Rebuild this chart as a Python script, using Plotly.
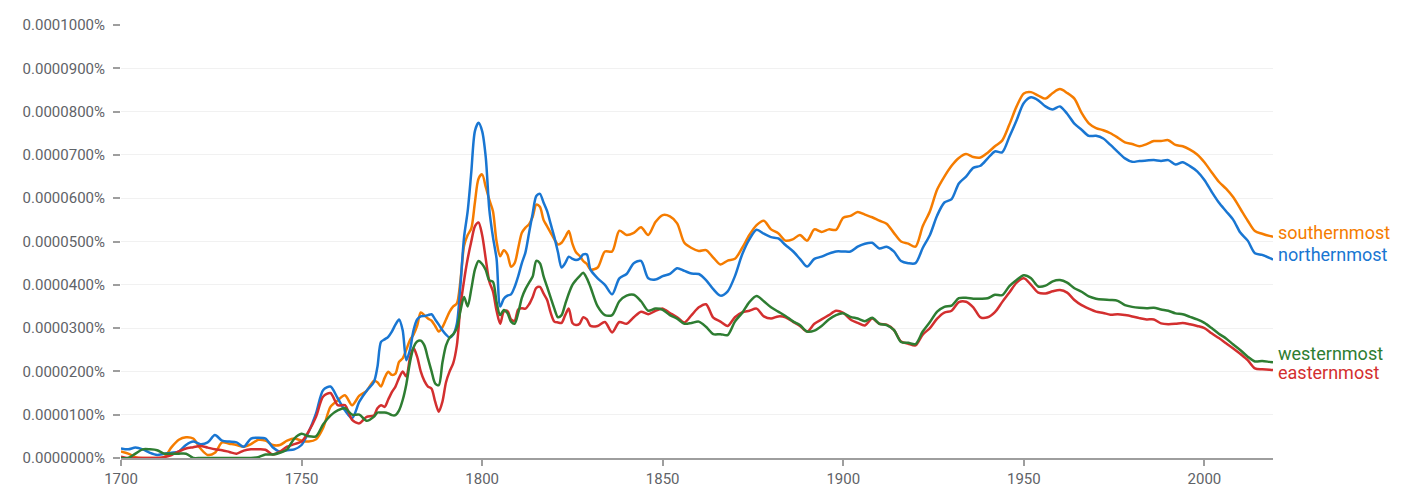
import plotly.graph_objects as go

YEARS = list(range(1700, 1771, 2)) + list(range(1771, 1831)) + list(range(1832, 2019, 2)) + [2019]

# values in units of 0.0000100 %
northernmost = (
    [0.22, 0.2, 0.24, 0.2, 0.12, 0.07, 0.1, 0.12, 0.15, 0.3,
     0.38, 0.32, 0.36, 0.53, 0.4, 0.38, 0.36, 0.26, 0.45, 0.47,
     0.45, 0.25, 0.15, 0.18, 0.2, 0.3, 0.61, 1.03, 1.57, 1.65,
     1.38, 1.1, 0.92, 1.3, 1.55, 1.75]
    + [2.1, 2.68, 2.74, 2.8, 2.92, 3.08, 3.2, 2.95, 2.26, 2.49,
       2.95, 3.2, 3.27, 3.28, 3.3, 3.32, 3.2, 3.08, 2.95, 2.85,
       2.78, 2.85, 3.1, 4.0, 5.1, 5.7, 6.6, 7.55, 7.74, 7.55,
       6.95, 5.73, 5.1, 4.6, 3.5, 3.68, 3.75, 3.78, 3.95, 4.2,
       4.5, 4.75, 5.2, 5.65, 6.05, 6.1, 5.9, 5.7, 5.4, 5.1,
       4.75, 4.4, 4.5, 4.65, 4.6, 4.57, 4.6, 4.7, 4.7, 4.35]
    + [4.15, 4.0, 3.78, 4.15, 4.25, 4.5, 4.55, 4.15, 4.12, 4.2,
       4.25, 4.38, 4.32, 4.26, 4.25, 4.11, 3.9, 3.75, 3.85, 4.2,
       4.7, 5.05, 5.27, 5.18, 5.1, 5.07, 4.92, 4.78, 4.6, 4.42,
       4.6, 4.65, 4.72, 4.77, 4.77, 4.77, 4.88, 4.95, 4.97, 4.84,
       4.88, 4.77, 4.55, 4.5, 4.5, 4.85, 5.15, 5.6, 5.9, 5.98,
       6.34, 6.5, 6.7, 6.75, 6.92, 7.08, 7.06, 7.42, 7.8, 8.2,
       8.33, 8.26, 8.12, 8.05, 8.12, 7.95, 7.72, 7.58, 7.44, 7.44,
       7.38, 7.23, 7.07, 6.92, 6.84, 6.86, 6.87, 6.88, 6.86, 6.88,
       6.78, 6.83, 6.74, 6.62, 6.42, 6.15, 5.9, 5.7, 5.5, 5.2,
       5.02, 4.73, 4.69, 4.62]
    + [4.58]
)

southernmost = (
    [0.15, 0.1, 0.02, 0.0, 0.0, 0.0, 0.02, 0.25, 0.42, 0.48,
     0.45, 0.22, 0.07, 0.12, 0.36, 0.33, 0.3, 0.26, 0.32, 0.42,
     0.4, 0.3, 0.3, 0.4, 0.45, 0.4, 0.38, 0.43, 0.7, 1.18,
     1.33, 1.45, 1.22, 1.44, 1.55, 1.78]
    + [1.75, 1.65, 1.85, 1.99, 1.92, 1.95, 2.22, 2.3, 2.5, 2.72,
       2.85, 3.05, 3.36, 3.3, 3.22, 3.17, 3.05, 2.92, 3.02, 3.2,
       3.38, 3.5, 3.57, 4.1, 4.9, 5.15, 5.3, 5.9, 6.45, 6.55,
       6.26, 5.96, 5.7, 5.0, 4.66, 4.8, 4.7, 4.42, 4.5, 4.85,
       5.2, 5.32, 5.4, 5.57, 5.85, 5.8, 5.5, 5.35, 5.2, 5.05,
       4.93, 4.97, 5.1, 5.24, 4.95, 4.75, 4.67, 4.55, 4.48, 4.35]
    + [4.4, 4.77, 4.77, 5.25, 5.15, 5.2, 5.33, 5.15, 5.45, 5.61,
       5.58, 5.42, 4.97, 4.85, 4.78, 4.8, 4.63, 4.47, 4.56, 4.6,
       4.85, 5.15, 5.38, 5.48, 5.28, 5.19, 5.02, 5.05, 5.15, 5.02,
       5.28, 5.22, 5.28, 5.27, 5.55, 5.59, 5.68, 5.62, 5.56, 5.48,
       5.41, 5.2, 5.0, 4.95, 4.88, 5.35, 5.7, 6.2, 6.5, 6.75,
       6.93, 7.02, 6.95, 6.94, 7.05, 7.2, 7.33, 7.7, 8.12, 8.42,
       8.45, 8.37, 8.3, 8.43, 8.52, 8.43, 8.3, 7.97, 7.73, 7.62,
       7.57, 7.5, 7.4, 7.29, 7.25, 7.2, 7.25, 7.32, 7.32, 7.34,
       7.23, 7.2, 7.12, 7.01, 6.83, 6.6, 6.38, 6.22, 6.02, 5.75,
       5.48, 5.24, 5.18, 5.13]
    + [5.11]
)

easternmost = (
    [0.03, 0.0, 0.0, 0.0, 0.0, 0.0, 0.02, 0.07, 0.15, 0.22,
     0.25, 0.28, 0.24, 0.2, 0.18, 0.14, 0.1, 0.17, 0.2, 0.2,
     0.19, 0.08, 0.15, 0.26, 0.32, 0.38, 0.62, 0.95, 1.42, 1.5,
     1.22, 1.22, 0.88, 0.8, 0.95, 0.98]
    + [1.15, 1.22, 1.18, 1.35, 1.52, 1.65, 1.85, 2.0, 1.88, 2.3,
       2.54, 2.34, 2.0, 1.78, 1.65, 1.6, 1.3, 1.07, 1.3, 1.75,
       2.0, 2.19, 2.6, 3.5, 4.1, 4.6, 5.0, 5.35, 5.44, 5.15,
       4.6, 4.07, 3.85, 3.4, 3.1, 3.38, 3.4, 3.2, 3.17, 3.43,
       3.46, 3.45, 3.55, 3.72, 3.93, 3.95, 3.8, 3.65, 3.35, 3.15,
       3.13, 3.12, 3.3, 3.45, 3.12, 3.07, 3.1, 3.25, 3.2, 3.05]
    + [3.05, 3.14, 2.9, 3.14, 3.1, 3.25, 3.38, 3.32, 3.4, 3.45,
       3.35, 3.25, 3.13, 3.3, 3.48, 3.55, 3.24, 3.15, 3.05, 3.25,
       3.36, 3.4, 3.45, 3.27, 3.22, 3.27, 3.25, 3.15, 3.05, 2.92,
       3.1, 3.2, 3.3, 3.4, 3.35, 3.2, 3.12, 3.06, 3.22, 3.1,
       3.08, 2.96, 2.69, 2.64, 2.6, 2.85, 3.0, 3.22, 3.36, 3.4,
       3.6, 3.61, 3.48, 3.25, 3.25, 3.37, 3.6, 3.82, 4.05, 4.15,
       4.0, 3.82, 3.8, 3.85, 3.88, 3.82, 3.65, 3.53, 3.45, 3.38,
       3.35, 3.31, 3.32, 3.3, 3.27, 3.23, 3.2, 3.2, 3.11, 3.09,
       3.1, 3.12, 3.09, 3.05, 3.0, 2.88, 2.77, 2.65, 2.53, 2.4,
       2.26, 2.07, 2.05, 2.04]
    + [2.03]
)

westernmost = (
    [0.0, 0.0, 0.1, 0.2, 0.2, 0.18, 0.1, 0.1, 0.1, 0.1,
     0.0, 0.0, 0.0, 0.0, 0.0, 0.0, 0.0, 0.0, 0.0, 0.02,
     0.08, 0.08, 0.12, 0.2, 0.45, 0.56, 0.5, 0.5, 0.78, 0.98,
     1.1, 1.15, 1.0, 1.0, 0.86, 0.95]
    + [1.05, 1.05, 1.05, 1.03, 0.99, 0.99, 1.1, 1.34, 1.7, 2.2,
       2.55, 2.69, 2.71, 2.6, 2.3, 2.0, 1.72, 1.68, 2.2, 2.6,
       2.78, 2.86, 3.0, 3.4, 3.72, 3.5, 3.9, 4.35, 4.55, 4.48,
       4.34, 4.1, 4.07, 3.6, 3.3, 3.42, 3.35, 3.15, 3.1, 3.35,
       3.7, 3.9, 4.05, 4.19, 4.55, 4.5, 4.2, 3.95, 3.7, 3.45,
       3.25, 3.3, 3.55, 3.8, 4.0, 4.11, 4.2, 4.28, 4.15, 3.95]
    + [3.5, 3.3, 3.3, 3.62, 3.75, 3.77, 3.62, 3.4, 3.45, 3.42,
       3.3, 3.22, 3.1, 3.12, 3.15, 3.03, 2.86, 2.86, 2.84, 3.15,
       3.35, 3.6, 3.74, 3.62, 3.48, 3.38, 3.28, 3.16, 3.07, 2.92,
       2.94, 3.05, 3.2, 3.3, 3.34, 3.26, 3.22, 3.16, 3.24, 3.1,
       3.07, 2.96, 2.68, 2.66, 2.63, 2.92, 3.14, 3.38, 3.49, 3.52,
       3.69, 3.7, 3.68, 3.68, 3.69, 3.77, 3.76, 3.97, 4.11, 4.22,
       4.15, 3.96, 3.98, 4.08, 4.11, 4.05, 3.92, 3.84, 3.73, 3.68,
       3.66, 3.65, 3.63, 3.53, 3.49, 3.47, 3.46, 3.47, 3.43, 3.4,
       3.34, 3.32, 3.26, 3.2, 3.12, 3.0, 2.87, 2.76, 2.62, 2.49,
       2.34, 2.23, 2.24, 2.22]
    + [2.21]
)

Y_TICK_VALUES = [0, 1, 2, 3, 4, 5, 6, 7, 8, 9, 10]
Y_TICK_LABELS = ["0.0000000%", "0.0000100%", "0.0000200%", "0.0000300%", "0.0000400%",
                 "0.0000500%", "0.0000600%", "0.0000700%", "0.0000800%", "0.0000900%",
                 "0.0001000%"]
X_TICK_VALUES = [1700, 1750, 1800, 1850, 1900, 1950, 2000]

SERIES = [
    ("southernmost", southernmost, "#f57c00", 4),
    ("northernmost", northernmost, "#1976d2", 5),
    ("easternmost", easternmost, "#d32f2f", -2),
    ("westernmost", westernmost, "#2e7d32", 9),
]

for name, vals, _, _ in SERIES:
    assert len(vals) == len(YEARS), (name, len(vals), len(YEARS))

FONT = "Roboto, Arial, sans-serif"
fig = go.Figure()
for name, vals, color, _ in SERIES:
    fig.add_trace(go.Scatter(
        x=YEARS, y=vals, mode="lines", name=name,
        line=dict(color=color, width=2.5, shape="spline", smoothing=0.8),
        hoverinfo="x+y+name",
    ))

annotations = []
for name, vals, color, yshift in SERIES:
    annotations.append(dict(
        x=1, xref="paper", y=vals[-1], yref="y", text=name,
        showarrow=False, xanchor="left", yanchor="middle",
        xshift=3, yshift=yshift,
        font=dict(family=FONT, size=18, color=color),
    ))

# the page body keeps the browser's default 8px margin (page offset 8,8),
# so the figure is 8px smaller and its left/top margins are 8px smaller
fig.update_layout(
    width=1399, height=484,
    margin=dict(l=113, r=134, t=17, b=34, autoexpand=False),
    paper_bgcolor="white", plot_bgcolor="white",
    showlegend=False,
    annotations=annotations,
    xaxis=dict(
        range=[1700, 2019], tickmode="array", tickvals=X_TICK_VALUES,
        ticks="outside", ticklen=6, tickcolor="#9e9e9e", tickwidth=1.5,
        showline=True, linecolor="#9e9e9e", linewidth=2,
        showgrid=False, zeroline=False, automargin=False,
        tickfont=dict(family=FONT, size=15, color="#5f6368"),
    ),
    yaxis=dict(
        range=[0, 10], tickmode="array", tickvals=Y_TICK_VALUES, ticktext=Y_TICK_LABELS,
        ticks="outside", ticklen=7, tickcolor="#9e9e9e", tickwidth=1.5,
        showline=False, showgrid=True, gridcolor="#f1f1f1", gridwidth=1,
        zeroline=False, ticklabelstandoff=5, automargin=False,
        tickfont=dict(family=FONT, size=15, color="#5f6368"),
    ),
    font=dict(family=FONT),
)

fig.write_html("out.html")
